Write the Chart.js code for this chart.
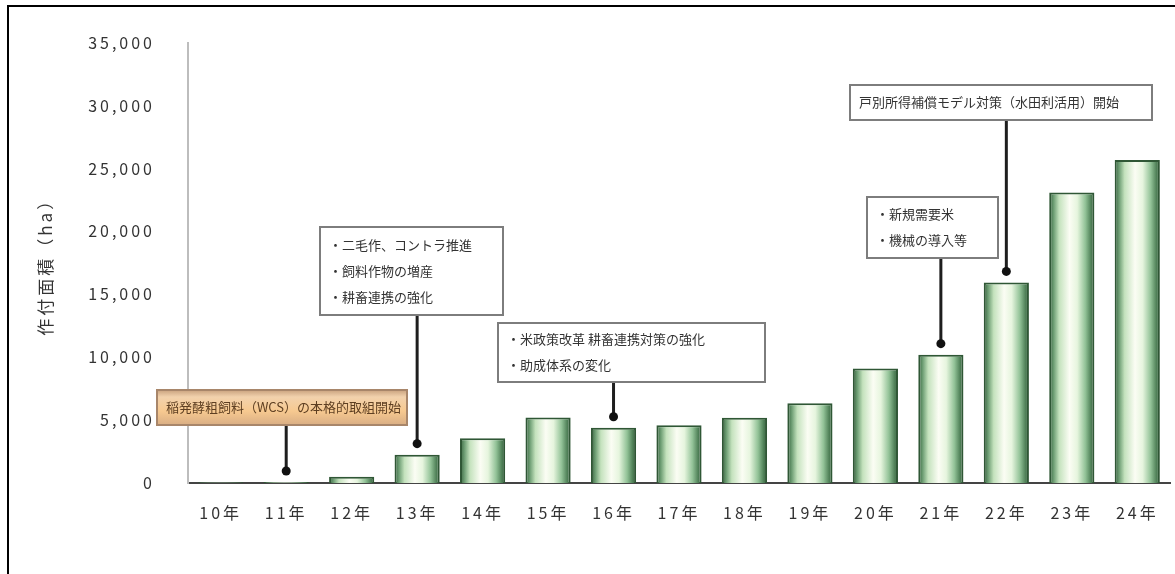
<!DOCTYPE html>
<html>
<head>
<meta charset="utf-8">
<script src="https://cdn.jsdelivr.net/npm/chart.js@4.4.0/dist/chart.umd.min.js"></script>
<style>
body{margin:0;background:#fff;}
#marco{position:absolute;left:7px;top:5px;width:1200px;height:600px;border-top:2px solid #000;border-left:2px solid #000;}
#contenedor{position:absolute;left:0;top:0;width:1175px;height:574px;}
</style>
</head>
<body>
<div id="marco"></div>
<div id="contenedor"><canvas id="graficoSuperficie" width="1175" height="574"></canvas></div>
<script>
// 作付面積 (ha) por año
const anios = ['10年','11年','12年','13年','14年','15年','16年','17年','18年','19年','20年','21年','22年','23年','24年'];
const superficie = [50, 80, 500, 2250, 3560, 5210, 4390, 4590, 5180, 6340, 9090, 10200, 15940, 23090, 25670];
const ticksY = [0, 5000, 10000, 15000, 20000, 25000, 30000, 35000];
const tituloY = '作付面積（ha）';

// notas sobre las barras
const notasAnio = [1, 3, 6, 11, 12];
const notasTexto = [
  ['稲発酵粗飼料（WCS）の本格的取組開始'],
  ['・二毛作、コントラ推進', '・飼料作物の増産', '・耕畜連携の強化'],
  ['・米政策改革 耕畜連携対策の強化', '・助成体系の変化'],
  ['・新規需要米', '・機械の導入等'],
  ['戸別所得補償モデル対策（水田利活用）開始']
];
// cajas de las notas (posicion en pixeles)
const notasCaja = [
  {x:157, y:390, w:250, h:35, naranja:true},
  {x:320, y:227, w:183, h:88},
  {x:498, y:323, w:267, h:59},
  {x:867, y:197, w:131, h:61},
  {x:850, y:85, w:302, h:35}
];

const fuente = '"Noto Sans CJK JP", "Noto Sans", sans-serif';

const degradadoBarra = (c) => {
  if (c.type !== 'data') return '#e3f2dc';
  const chart = c.chart;
  const xs = chart.scales.x;
  if (!xs || !chart.chartArea) return '#e3f2dc';
  const xc = xs.getPixelForValue(c.dataIndex);
  const w = (xs.width / anios.length) * 0.69;
  const g = chart.ctx.createLinearGradient(xc - w/2, 0, xc + w/2, 0);
  g.addColorStop(0, '#34603b');
  g.addColorStop(0.1, '#6f9f75');
  g.addColorStop(0.22, '#c4e2bd');
  g.addColorStop(0.45, '#fbfdf4');
  g.addColorStop(0.62, '#e6f5de');
  g.addColorStop(0.8, '#92c297');
  g.addColorStop(0.92, '#52835a');
  g.addColorStop(1, '#34603b');
  return g;
};

const espaciado = {
  id: 'espaciado',
  beforeDraw(chart) { chart.ctx.letterSpacing = '3px'; }
};

const notas = {
  id: 'notas',
  afterDatasetsDraw(chart) {
    const ctx = chart.ctx;
    const xs = chart.scales.x, ys = chart.scales.y;
    ctx.save();
    ctx.letterSpacing = '0px';
    notasCaja.forEach((caja, i) => {
      const xb = xs.getPixelForValue(notasAnio[i]);
      const yb = ys.getPixelForValue(superficie[notasAnio[i]]);
      // linea hacia la barra
      ctx.strokeStyle = '#1e1e1e';
      ctx.lineWidth = 3;
      ctx.beginPath();
      ctx.moveTo(xb, caja.y + caja.h);
      ctx.lineTo(xb, yb - 11);
      ctx.stroke();
      ctx.fillStyle = '#111';
      ctx.beginPath();
      ctx.arc(xb, yb - 11, 4.5, 0, Math.PI * 2);
      ctx.fill();
      // caja
      if (caja.naranja) {
        const g = ctx.createLinearGradient(0, caja.y, 0, caja.y + caja.h);
        g.addColorStop(0, '#c9a27e');
        g.addColorStop(0.2, '#f2d2ad');
        g.addColorStop(0.6, '#f7c990');
        g.addColorStop(1, '#d9ae84');
        ctx.fillStyle = g;
        ctx.strokeStyle = '#a8866a';
      } else {
        ctx.fillStyle = '#ffffff';
        ctx.strokeStyle = '#7d7d7d';
      }
      ctx.lineWidth = 2;
      ctx.fillRect(caja.x, caja.y, caja.w, caja.h);
      ctx.strokeRect(caja.x, caja.y, caja.w, caja.h);
      // texto
      const lineas = notasTexto[i];
      ctx.fillStyle = caja.naranja ? '#5e3f22' : '#333';
      ctx.font = '13px ' + fuente;
      ctx.textAlign = 'left';
      ctx.textBaseline = 'middle';
      const cy = caja.y + caja.h / 2;
      lineas.forEach((t, k) => {
        ctx.fillText(t, caja.x + 9, cy + (k - (lineas.length - 1) / 2) * 26);
      });
    });
    ctx.restore();
  }
};

const ctx = document.getElementById('graficoSuperficie').getContext('2d');
const graficoSuperficie = new Chart(ctx, {
  type: 'bar',
  data: {
    labels: anios,
    datasets: [{
      label: tituloY,
      data: superficie,
      backgroundColor: degradadoBarra,
      borderColor: '#2f5735',
      borderWidth: 2,
      barPercentage: 0.69,
      categoryPercentage: 1
    }]
  },
  options: {
    responsive: false,
    animation: false,
    layout: { padding: { left: 10, top: 25, right: 5, bottom: 51 } },
    plugins: {
      legend: { display: false },
      tooltip: { enabled: false }
    },
    scales: {
      x: {
        grid: { display: false, drawTicks: false },
        border: { color: '#444', width: 2 },
        ticks: { color: '#333', padding: 20, font: { family: fuente, size: 16 } },
        afterFit(s) { s.height = 40; }
      },
      y: {
        min: 0,
        max: 35000,
        afterBuildTicks(s) { s.ticks = ticksY.map(v => ({ value: v })); },
        grid: { display: false, drawTicks: false },
        border: { color: '#bdbdbd', width: 2 },
        ticks: {
          color: '#333',
          padding: 33,
          font: { family: fuente, size: 16 },
          callback: (v) => v.toLocaleString('en-US')
        },
        title: {
          display: true,
          text: tituloY,
          color: '#333',
          font: { family: fuente, size: 17 },
          padding: { top: 25, bottom: 0 }
        },
        afterFit(s) { s.width = 178; }
      }
    }
  },
  plugins: [espaciado, notas]
});
</script>
</body>
</html>
